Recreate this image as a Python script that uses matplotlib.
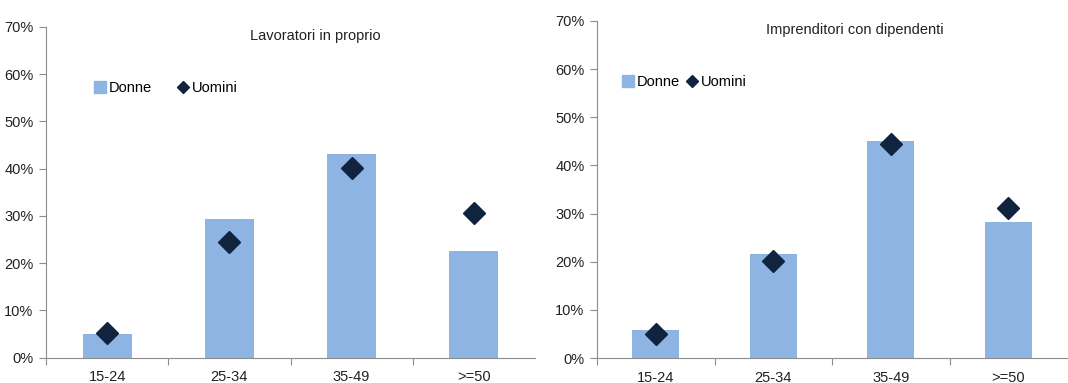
import matplotlib
matplotlib.use("Agg")
import matplotlib.pyplot as plt
from matplotlib.lines import Line2D
from matplotlib.ticker import PercentFormatter

plt.rcParams['font.family'] = ['Liberation Sans', 'DejaVu Sans']

# age groups
categories = ['15-24', '25-34', '35-49', '>=50']

# own-account workers (%)
lav_donne = [4.9, 29.4, 43.0, 22.5]
lav_uomini = [5.2, 24.4, 40.1, 30.6]

# employers (%)
imp_donne = [5.8, 21.5, 45.1, 28.3]
imp_uomini = [5.0, 20.2, 44.4, 31.1]

BAR_COLOR = '#8EB4E3'
DOT_COLOR = '#10243F'
AXIS_COLOR = '#8C8C8C'

W, H = 1068, 383
fig = plt.figure(figsize=(W / 100, H / 100), dpi=100)


def px_axes(x0, y0, x1, y1):
    return fig.add_axes([x0 / W, 1 - y1 / H, (x1 - x0) / W, (y1 - y0) / H])


def draw_panel(ax, title, donne, uomini, title_xy, legend_xy, colspacing):
    n = len(categories)
    centers = [i + 0.5 for i in range(n)]
    ax.bar(centers, donne, width=0.4, color=BAR_COLOR, zorder=2)
    ax.plot(centers, uomini, linestyle='none', marker='D', markersize=11,
            color=DOT_COLOR, zorder=3)

    ax.set_xlim(0, n)
    ax.set_ylim(0, 70)
    ax.set_yticks(range(0, 71, 10))
    ax.yaxis.set_major_formatter(PercentFormatter(decimals=0))
    ax.set_xticks(range(n))
    ax.set_xticklabels([])
    ax.set_xticks(centers, minor=True)
    ax.set_xticklabels(categories, minor=True)
    ax.tick_params(axis='x', which='major', direction='out', length=5,
                   color=AXIS_COLOR)
    ax.tick_params(axis='x', which='minor', length=0, pad=9, labelsize=10.5,
                   labelcolor='#222222')
    ax.tick_params(axis='y', direction='out', length=5, color=AXIS_COLOR,
                   labelsize=10.5, labelcolor='#222222', pad=4)
    for side in ('top', 'right'):
        ax.spines[side].set_visible(False)
    for side in ('left', 'bottom'):
        ax.spines[side].set_color(AXIS_COLOR)

    ax.text(*title_xy, title, transform=fig.transFigure, ha='center',
            va='center', fontsize=10.5, color='#222222')

    handles = [
        Line2D([], [], linestyle='none', marker='s', markersize=8,
               color=BAR_COLOR),
        Line2D([], [], linestyle='none', marker='D', markersize=6,
               color=DOT_COLOR),
    ]
    fig.legend(handles, ['Donne', 'Uomini'], loc='center left',
               bbox_to_anchor=legend_xy, ncol=2, frameon=False,
               fontsize=10.5, handlelength=0.7, handletextpad=0.25,
               columnspacing=colspacing, borderaxespad=0, borderpad=0)


ax1 = px_axes(46, 27, 535, 357.5)
draw_panel(ax1, 'Lavoratori in proprio', lav_donne, lav_uomini,
           (315 / W, 1 - 36 / H), (95 / W, 1 - 88 / H), 1.8)

ax2 = px_axes(597, 21, 1067, 358)
draw_panel(ax2, 'Imprenditori con dipendenti', imp_donne, imp_uomini,
           (855 / W, 1 - 30 / H), (623 / W, 1 - 82 / H), 0.5)

fig.savefig('out.png', dpi=100)
